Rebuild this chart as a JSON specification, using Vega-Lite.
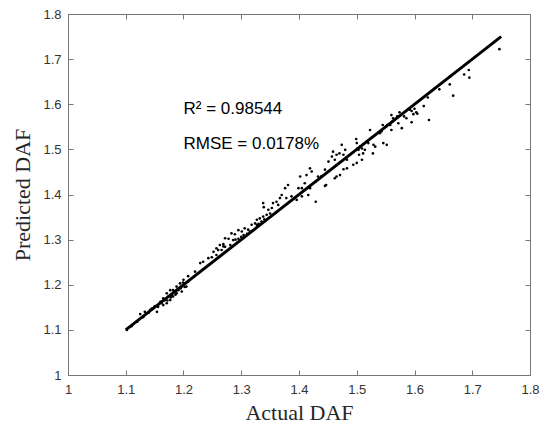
{
  "$schema": "https://vega.github.io/schema/vega-lite/v6.json",
  "width": 462,
  "height": 361,
  "autosize": {"type": "none"},
  "padding": {"left": 68, "top": 14, "right": 14, "bottom": 52},
  "background": "white",
  "config": {
    "view": {"stroke": "#777777", "strokeWidth": 1},
    "axis": {"grid": false, "domain": false, "labelFlush": false, "labelOverlap": false}
  },
  "resolve": {"axis": {"x": "independent", "y": "independent"}},
  "layer": [
    {
      "data": {"values": [
        {"actual":1.747,"predicted":1.722},{"actual":1.694,"predicted":1.676},{"actual":1.695,"predicted":1.659},{"actual":1.686,"predicted":1.666},
        {"actual":1.662,"predicted":1.662},{"actual":1.661,"predicted":1.644},{"actual":1.667,"predicted":1.619},{"actual":1.643,"predicted":1.633},
        {"actual":1.623,"predicted":1.615},{"actual":1.616,"predicted":1.596},{"actual":1.625,"predicted":1.565},{"actual":1.595,"predicted":1.585},
        {"actual":1.600,"predicted":1.590},{"actual":1.603,"predicted":1.582},{"actual":1.598,"predicted":1.578},{"actual":1.595,"predicted":1.560},
        {"actual":1.605,"predicted":1.579},{"actual":1.592,"predicted":1.588},{"actual":1.586,"predicted":1.569},{"actual":1.582,"predicted":1.573},
        {"actual":1.574,"predicted":1.582},{"actual":1.570,"predicted":1.573},{"actual":1.572,"predicted":1.558},{"actual":1.578,"predicted":1.547},
        {"actual":1.560,"predicted":1.576},{"actual":1.563,"predicted":1.569},{"actual":1.562,"predicted":1.562},{"actual":1.560,"predicted":1.543},
        {"actual":1.558,"predicted":1.554},{"actual":1.553,"predicted":1.554},{"actual":1.545,"predicted":1.554},{"actual":1.543,"predicted":1.540},
        {"actual":1.540,"predicted":1.536},{"actual":1.523,"predicted":1.543},{"actual":1.517,"predicted":1.517},{"actual":1.520,"predicted":1.514},
        {"actual":1.529,"predicted":1.510},{"actual":1.532,"predicted":1.506},{"actual":1.546,"predicted":1.514},{"actual":1.552,"predicted":1.510},
        {"actual":1.528,"predicted":1.491},{"actual":1.514,"predicted":1.499},{"actual":1.511,"predicted":1.491},{"actual":1.503,"predicted":1.499},
        {"actual":1.500,"predicted":1.514},{"actual":1.499,"predicted":1.523},{"actual":1.506,"predicted":1.506},{"actual":1.501,"predicted":1.502},
        {"actual":1.509,"predicted":1.502},{"actual":1.504,"predicted":1.488},{"actual":1.480,"predicted":1.499},{"actual":1.477,"predicted":1.488},
        {"actual":1.474,"predicted":1.510},{"actual":1.470,"predicted":1.491},{"actual":1.465,"predicted":1.488},{"actual":1.459,"predicted":1.495},
        {"actual":1.457,"predicted":1.484},{"actual":1.462,"predicted":1.477},{"actual":1.451,"predicted":1.473},{"actual":1.445,"predicted":1.455},
        {"actual":1.483,"predicted":1.477},{"actual":1.500,"predicted":1.470},{"actual":1.494,"predicted":1.466},{"actual":1.509,"predicted":1.477},
        {"actual":1.483,"predicted":1.458},{"actual":1.477,"predicted":1.456},{"actual":1.471,"predicted":1.443},{"actual":1.465,"predicted":1.440},
        {"actual":1.462,"predicted":1.436},{"actual":1.422,"predicted":1.451},{"actual":1.419,"predicted":1.458},{"actual":1.445,"predicted":1.419},
        {"actual":1.439,"predicted":1.441},{"actual":1.447,"predicted":1.421},{"actual":1.429,"predicted":1.384},{"actual":1.433,"predicted":1.440},
        {"actual":1.413,"predicted":1.443},{"actual":1.402,"predicted":1.440},{"actual":1.410,"predicted":1.425},{"actual":1.405,"predicted":1.414},
        {"actual":1.399,"predicted":1.414},{"actual":1.419,"predicted":1.414},{"actual":1.416,"predicted":1.399},{"actual":1.405,"predicted":1.396},
        {"actual":1.396,"predicted":1.388},{"actual":1.381,"predicted":1.421},{"actual":1.376,"predicted":1.414},{"actual":1.370,"predicted":1.399},
        {"actual":1.367,"predicted":1.392},{"actual":1.361,"predicted":1.384},{"actual":1.364,"predicted":1.377},{"actual":1.355,"predicted":1.381},
        {"actual":1.353,"predicted":1.370},{"actual":1.347,"predicted":1.366},{"actual":1.338,"predicted":1.381},{"actual":1.339,"predicted":1.372},
        {"actual":1.350,"predicted":1.358},{"actual":1.344,"predicted":1.355},{"actual":1.338,"predicted":1.351},{"actual":1.332,"predicted":1.347},
        {"actual":1.327,"predicted":1.344},{"actual":1.324,"predicted":1.336},{"actual":1.318,"predicted":1.333},{"actual":1.312,"predicted":1.322},
        {"actual":1.306,"predicted":1.325},{"actual":1.301,"predicted":1.318},{"actual":1.295,"predicted":1.321},{"actual":1.289,"predicted":1.312},
        {"actual":1.283,"predicted":1.314},{"actual":1.278,"predicted":1.302},{"actual":1.272,"predicted":1.303},{"actual":1.269,"predicted":1.290},
        {"actual":1.263,"predicted":1.288},{"actual":1.257,"predicted":1.281},{"actual":1.252,"predicted":1.273},{"actual":1.315,"predicted":1.318},
        {"actual":1.327,"predicted":1.333},{"actual":1.335,"predicted":1.340},{"actual":1.304,"predicted":1.310},{"actual":1.295,"predicted":1.302},
        {"actual":1.286,"predicted":1.299},{"actual":1.281,"predicted":1.288},{"actual":1.272,"predicted":1.284},{"actual":1.266,"predicted":1.277},
        {"actual":1.257,"predicted":1.266},{"actual":1.249,"predicted":1.261},{"actual":1.378,"predicted":1.392},{"actual":1.387,"predicted":1.396},
        {"actual":1.290,"predicted":1.300},{"actual":1.300,"predicted":1.306},{"actual":1.310,"predicted":1.313},{"actual":1.320,"predicted":1.320},
        {"actual":1.330,"predicted":1.335},{"actual":1.340,"predicted":1.345},{"actual":1.360,"predicted":1.360},
        {"actual":1.102,"predicted":1.100},{"actual":1.269,"predicted":1.285},{"actual":1.260,"predicted":1.277},{"actual":1.243,"predicted":1.259},
        {"actual":1.234,"predicted":1.251},{"actual":1.229,"predicted":1.248},{"actual":1.220,"predicted":1.229},{"actual":1.208,"predicted":1.219},
        {"actual":1.208,"predicted":1.207},{"actual":1.203,"predicted":1.203},{"actual":1.197,"predicted":1.196},{"actual":1.191,"predicted":1.188},
        {"actual":1.185,"predicted":1.185},{"actual":1.180,"predicted":1.177},{"actual":1.174,"predicted":1.174},{"actual":1.168,"predicted":1.166},
        {"actual":1.162,"predicted":1.159},{"actual":1.156,"predicted":1.151},{"actual":1.148,"predicted":1.148},{"actual":1.142,"predicted":1.144},
        {"actual":1.133,"predicted":1.140},{"actual":1.125,"predicted":1.135},{"actual":1.188,"predicted":1.196},{"actual":1.182,"predicted":1.188},
        {"actual":1.177,"predicted":1.188},{"actual":1.194,"predicted":1.203},{"actual":1.200,"predicted":1.211},{"actual":1.171,"predicted":1.181},
        {"actual":1.165,"predicted":1.170},{"actual":1.188,"predicted":1.181},{"actual":1.182,"predicted":1.174},{"actual":1.177,"predicted":1.166},
        {"actual":1.171,"predicted":1.159},{"actual":1.165,"predicted":1.155},{"actual":1.205,"predicted":1.196},{"actual":1.197,"predicted":1.185},
        {"actual":1.154,"predicted":1.140},{"actual":1.110,"predicted":1.108},{"actual":1.120,"predicted":1.118},{"actual":1.130,"predicted":1.128},
        {"actual":1.190,"predicted":1.190},{"actual":1.195,"predicted":1.192},{"actual":1.186,"predicted":1.178},{"actual":1.178,"predicted":1.172},
        {"actual":1.172,"predicted":1.165},{"actual":1.160,"predicted":1.162},{"actual":1.150,"predicted":1.152},{"actual":1.145,"predicted":1.147},
        {"actual":1.140,"predicted":1.138},{"actual":1.202,"predicted":1.195},{"actual":1.199,"predicted":1.205}
      ]},
      "mark": {"type": "circle", "size": 7, "color": "black", "opacity": 1},
      "encoding": {
        "x": {"field": "actual", "type": "quantitative",
          "scale": {"domain": [1, 1.8], "nice": false, "zero": false},
          "axis": {"orient": "bottom", "values": [1,1.1,1.2,1.3,1.4,1.5,1.6,1.7,1.8], "format": ".1~f",
            "tickSize": -5, "tickColor": "#777777", "labelPadding": 13,
            "labelFont": "Liberation Sans", "labelFontSize": 13, "labelColor": "#333333",
            "title": "Actual DAF", "titleFont": "Liberation Serif", "titleFontSize": 22, "titleFontWeight": "normal",
            "titleColor": "#262626", "titlePadding": 6}},
        "y": {"field": "predicted", "type": "quantitative",
          "scale": {"domain": [1, 1.8], "nice": false, "zero": false},
          "axis": {"orient": "left", "values": [1,1.1,1.2,1.3,1.4,1.5,1.6,1.7,1.8], "format": ".1~f",
            "tickSize": -5, "tickColor": "#777777", "labelPadding": 12,
            "labelFont": "Liberation Sans", "labelFontSize": 13, "labelColor": "#333333",
            "title": "Predicted DAF", "titleFont": "Liberation Serif", "titleFontSize": 22, "titleFontWeight": "normal",
            "titleColor": "#262626", "titlePadding": 8}}
      }
    },
    {
      "data": {"values": [{"actual": 1.1, "predicted": 1.1}, {"actual": 1.75, "predicted": 1.75}]},
      "mark": {"type": "line", "color": "black", "strokeWidth": 3},
      "encoding": {
        "x": {"field": "actual", "type": "quantitative",
          "axis": {"orient": "top", "values": [1,1.1,1.2,1.3,1.4,1.5,1.6,1.7,1.8], "labels": false, "title": null,
            "tickSize": -5, "tickColor": "#777777"}},
        "y": {"field": "predicted", "type": "quantitative",
          "axis": {"orient": "right", "values": [1,1.1,1.2,1.3,1.4,1.5,1.6,1.7,1.8], "labels": false, "title": null,
            "tickSize": -5, "tickColor": "#777777"}}
      }
    },
    {
      "data": {"values": [
        {"actual": 1.2, "predicted": 1.578, "label": "R² = 0.98544"},
        {"actual": 1.2, "predicted": 1.501, "label": "RMSE = 0.0178%"}
      ]},
      "mark": {"type": "text", "align": "left", "baseline": "alphabetic", "font": "Liberation Sans", "fontSize": 17, "color": "#000000"},
      "encoding": {
        "x": {"field": "actual", "type": "quantitative", "axis": null},
        "y": {"field": "predicted", "type": "quantitative", "axis": null},
        "text": {"field": "label"}
      }
    }
  ]
}
